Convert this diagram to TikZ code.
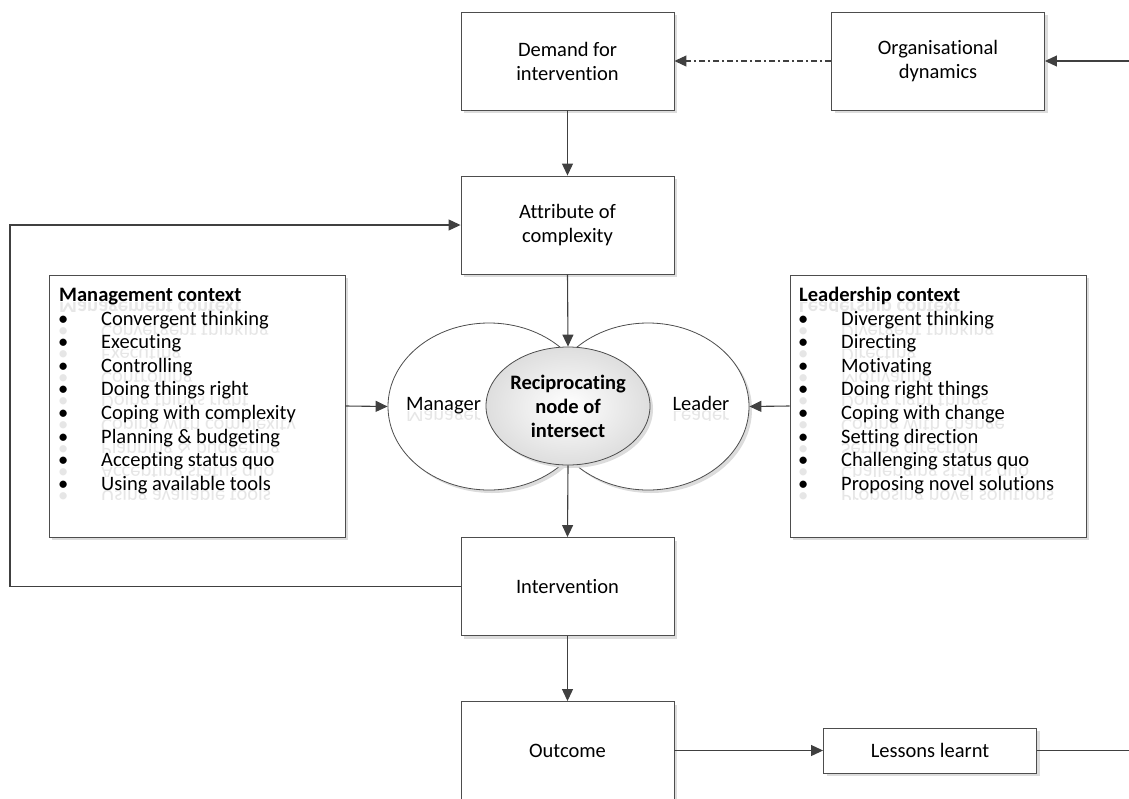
\documentclass[tikz,border=0pt]{standalone}
\usepackage{fontspec}
\setmainfont{Carlito}[Ligatures={NoCommon,NoContextual}]
\usetikzlibrary{arrows.meta,shapes.geometric,shadows}

\definecolor{edgegray}{HTML}{4D4D4D}
\definecolor{wiregray}{HTML}{404040}
\definecolor{shadowgray}{HTML}{DCDCDC}
\definecolor{mirrorgray}{HTML}{E6E6E6}

\tikzset{
  basefont/.style={font=\fontsize{20.5pt}{24pt}\selectfont},
  softshadow/.style={drop shadow={shadow xshift=3pt, shadow yshift=-3pt, fill=shadowgray, opacity=1}},
  procbox/.style={basefont, draw=edgegray, line width=0.9pt, fill=white, align=center,
    inner sep=0pt, minimum width=213pt, minimum height=98pt, softshadow},
  smallbox/.style={procbox, minimum height=45pt},
  ctxbox/.style={draw=edgegray, line width=0.9pt, fill=white, inner sep=0pt,
    minimum width=296pt, minimum height=262pt, softshadow},
  roleellipse/.style={ellipse, draw=edgegray, line width=0.8pt, fill=white, inner sep=0pt,
    minimum width=202pt, minimum height=167pt, softshadow},
  coreellipse/.style={ellipse, draw=edgegray, line width=0.8pt, inner sep=0pt,
    minimum width=164pt, minimum height=118pt, inner color=white, outer color=black!13,
    align=center, font=\fontsize{20.5pt}{24pt}\selectfont\bfseries, softshadow},
  listline/.style={basefont, anchor=west, inner sep=0pt, text height=14pt, text depth=5pt},
  mirrorline/.style={listline, yscale=-1, text=mirrorgray},
  rolelabel/.style={basefont, inner sep=0pt, text height=14pt, text depth=5pt},
  link/.style={draw=wiregray, line width=1.1pt, -{Triangle[length=12pt,width=11pt]}},
  plainlink/.style={draw=wiregray, line width=1.1pt},
  dashlink/.style={link, dash pattern=on 6pt off 3pt on 2pt off 3pt}
}

% faint mirrored copy of a text line below its baseline: name, x, y (centre), anchor, text
\newcommand{\mirrortext}[5]{%
  \begin{scope}
    \clip (#2-160, #3+5) rectangle (#2+320, #3+14);
    \node[mirrorline, anchor=#4] (#1) at (#2, #3+9) {#5};
  \end{scope}}

\begin{document}
\begin{tikzpicture}[x=1pt, y=-1pt]
  \useasboundingbox (0,0) rectangle (1129,798);

  % process chain down the middle
  \node[procbox] (demand) at (567.5,61) {Demand for\\intervention};
  \node[procbox] (orgdyn) at (938,61) {Organisational\\dynamics};
  \node[procbox] (attr) at (567.5,225) {Attribute of\\complexity};
  \node[procbox] (interv) at (567.5,586.5) {Intervention};
  \node[procbox] (outcome) at (567.5,750.5) {Outcome};
  \node[smallbox] (lessons) at (930,750.5) {Lessons learnt};

  % management and leadership context boxes
  \node[ctxbox] (mgmt) at (197,406) {};
  \node[ctxbox] (lead) at (938,406) {};

  % mirrored lines first, so the lists sit on top of them
  \mirrortext{mgmtheadm}{59}{297}{west}{\bfseries Management context}
  \foreach \item [count=\i] in {Convergent thinking, Executing, Controlling, Doing things right,
      Coping with complexity, Planning \& budgeting, Accepting status quo, Using available tools}
    \mirrortext{mgmtitemm\i}{58}{297+23.6*\i}{west}{\makebox[43pt][l]{\textbullet}\item};
  \mirrortext{leadheadm}{799}{297}{west}{\bfseries Leadership context}
  \foreach \item [count=\i] in {Divergent thinking, Directing, Motivating, Doing right things,
      Coping with change, Setting direction, Challenging status quo, Proposing novel solutions}
    \mirrortext{leaditemm\i}{798}{297+23.6*\i}{west}{\makebox[43pt][l]{\textbullet}\item};

  \node[listline, font=\fontsize{20.5pt}{24pt}\selectfont\bfseries] (mgmthead) at (59,297) {Management context};
  \foreach \item [count=\i] in {Convergent thinking, Executing, Controlling, Doing things right,
      Coping with complexity, Planning \& budgeting, Accepting status quo, Using available tools}
    \node[listline] (mgmtitem\i) at (58,297+23.6*\i) {\makebox[43pt][l]{\textbullet}\item};

  \node[listline, font=\fontsize{20.5pt}{24pt}\selectfont\bfseries] (leadhead) at (799,297) {Leadership context};
  \foreach \item [count=\i] in {Divergent thinking, Directing, Motivating, Doing right things,
      Coping with change, Setting direction, Challenging status quo, Proposing novel solutions}
    \node[listline] (leaditem\i) at (798,297+23.6*\i) {\makebox[43pt][l]{\textbullet}\item};

  % overlapping role ellipses and their intersection
  \node[roleellipse] (manager) at (489,406.5) {};
  \node[roleellipse] (leader) at (648,406.5) {};
  \mirrortext{managerlabelm}{443.5}{406}{center}{Manager}
  \mirrortext{leaderlabelm}{701}{406}{center}{Leader}
  \node[rolelabel] (managerlabel) at (443.5,406) {Manager};
  \node[rolelabel] (leaderlabel) at (701,406) {Leader};
  \node[coreellipse] (core) at (568,406) {Reciprocating\\node of\\intersect};

  % loose ends at the right margin and the loop column
  \coordinate (dynin) at (1129,61);
  \coordinate (lessonsout) at (1129,750.5);
  \coordinate (loopcol) at (10,400);

  % connectors
  \draw[link] (dynin) -- (orgdyn.east);
  \draw[dashlink] (orgdyn.west) -- (demand.east);
  \draw[link] (demand.south) -- (attr.north);
  \draw[link] (attr.south) -- (core.north);
  \draw[link] (core.south) -- (interv.north);
  \draw[link] (interv.south) -- (outcome.north);
  \draw[link] (outcome.east) -- (lessons.west);
  \draw[plainlink] (lessons.east) -- (lessonsout);
  \draw[link] (mgmt.east) -- (manager.west);
  \draw[link] (lead.west) -- (leader.east);
  \draw[link] (interv.west) -| (loopcol) |- (attr.west);
\end{tikzpicture}
\end{document}
